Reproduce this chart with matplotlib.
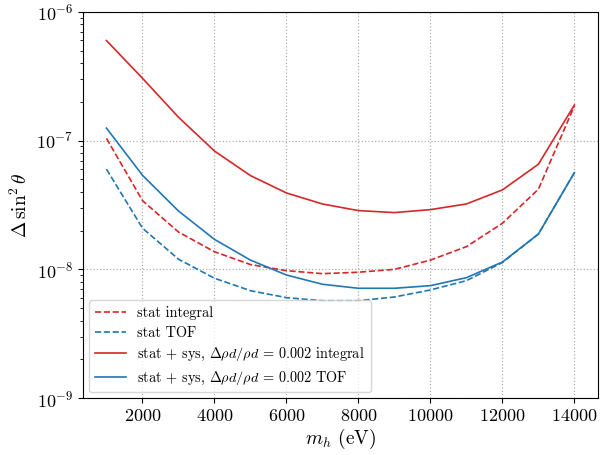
import matplotlib
matplotlib.use("Agg")
import matplotlib.pyplot as plt

plt.rcParams["font.family"] = "serif"
plt.rcParams["font.serif"] = ["cmr10"]
plt.rcParams["mathtext.fontset"] = "cm"
plt.rcParams["axes.formatter.use_mathtext"] = True
plt.rcParams["axes.unicode_minus"] = False

m_h = [1000, 2000, 3000, 4000, 5000, 6000, 7000, 8000, 9000, 10000, 11000, 12000, 13000, 14000]

stat_integral = [1.04e-7, 3.42e-8, 1.95e-8, 1.37e-8, 1.09e-8, 9.77e-9, 9.26e-9, 9.5e-9,
                 1.0e-8, 1.18e-8, 1.5e-8, 2.28e-8, 4.19e-8, 1.86e-7]
stat_tof = [6.0e-8, 2.09e-8, 1.2e-8, 8.53e-9, 6.83e-9, 6.03e-9, 5.71e-9, 5.71e-9,
            6.1e-9, 6.92e-9, 8.17e-9, 1.13e-8, 1.88e-8, 5.64e-8]
sys_integral = [5.98e-7, 3.05e-7, 1.52e-7, 8.3e-8, 5.35e-8, 3.92e-8, 3.22e-8, 2.86e-8,
                2.76e-8, 2.91e-8, 3.22e-8, 4.14e-8, 6.55e-8, 1.89e-7]
sys_tof = [1.25e-7, 5.38e-8, 2.84e-8, 1.71e-8, 1.18e-8, 9.04e-9, 7.66e-9, 7.13e-9,
           7.13e-9, 7.47e-9, 8.62e-9, 1.14e-8, 1.88e-8, 5.64e-8]

labels = [
    "stat integral",
    "stat TOF",
    r"stat + sys, $\Delta\rho d/\rho d\,=\,0.002$ integral",
    r"stat + sys, $\Delta\rho d/\rho d\,=\,0.002$ TOF",
]

red = "#d62728"
blue = "#1f77b4"

fig = plt.figure(figsize=(6.02, 4.55), dpi=100)
ax = fig.add_axes([0.138, 0.125, 0.855, 0.849])

ax.plot(m_h, stat_integral, ls="--", color=red, lw=1.2, label=labels[0])
ax.plot(m_h, stat_tof, ls="--", color=blue, lw=1.2, label=labels[1])
ax.plot(m_h, sys_integral, ls="-", color=red, lw=1.2, label=labels[2])
ax.plot(m_h, sys_tof, ls="-", color=blue, lw=1.2, label=labels[3])

ax.set_yscale("log")
ax.set_ylim(1e-9, 1e-6)
ax.set_xticks([2000, 4000, 6000, 8000, 10000, 12000, 14000])
ax.grid(True, which="major", ls=":", color="#b0b0b0", lw=0.9)
ax.tick_params(labelsize=13)
ax.set_xlabel(r"$m_h$ (eV)", fontsize=14, labelpad=2)
ax.set_ylabel(r"$\Delta\,\sin^2\theta$", fontsize=14)
ax.legend(loc="lower left", fontsize=10.3, framealpha=0.8, labelspacing=0.45,
          handlelength=2.2, borderaxespad=0.4)

fig.savefig("out.png", dpi=100)
